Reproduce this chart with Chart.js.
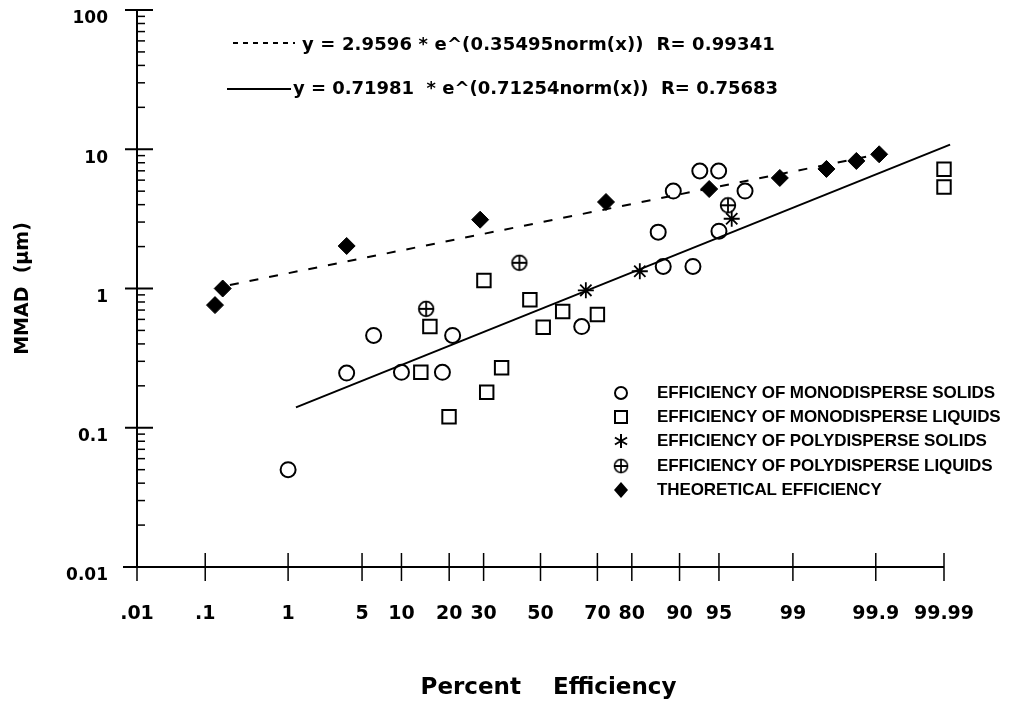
<!DOCTYPE html>
<html><head><meta charset="utf-8">
<script src="https://cdn.jsdelivr.net/npm/chart.js@4.4.1/dist/chart.umd.min.js"></script>
<style>html,body{margin:0;padding:0;background:#fff}#wrap{width:1013px;height:703px}</style>
</head><body><div id="wrap"><canvas id="c" width="1013" height="703"></canvas></div>
<script>
// ---------- data (percent efficiency, MMAD in micrometres) ----------
const xTickPercents = [0.01, 0.1, 1, 5, 10, 20, 30, 50, 70, 80, 90, 95, 99, 99.9, 99.99];
const xTickLabels = ['.01', '.1', '1', '5', '10', '20', '30', '50', '70', '80', '90', '95', '99', '99.9', '99.99'];
const yTickValues = [0.01, 0.1, 1, 10, 100];
const yTickLabels = ['0.01', '0.1', '1', '10', '100'];

const monoSolidsPct  = [1.0, 3.7, 6.2, 10.0, 18.3, 20.9, 64.8, 86.1, 87.1, 88.95, 92.0, 92.9, 94.97, 95.0, 97.03];
const monoSolidsMMAD = [0.05, 0.247, 0.46, 0.25, 0.25, 0.46, 0.533, 2.54, 1.44, 5.01, 1.44, 6.98, 6.98, 2.58, 5.01];

const monoLiquidsPct  = [13.5, 15.4, 19.96, 30.1, 31.0, 36.0, 46.1, 51.0, 58.1, 70.0, 99.99, 99.99];
const monoLiquidsMMAD = [0.25, 0.533, 0.12, 1.14, 0.18, 0.27, 0.83, 0.527, 0.683, 0.65, 7.18, 5.35];

const polySolidsPct  = [66.2, 82.0, 96.1];
const polySolidsMMAD = [0.97, 1.33, 3.17];

const polyLiquidsPct  = [14.6, 42.3, 95.8];
const polyLiquidsMMAD = [0.714, 1.53, 3.96];

const theoPct  = [0.135, 0.17, 3.7, 28.9, 72.7, 94.0, 98.63, 99.58, 99.82, 99.91];
const theoMMAD = [0.76, 1.0, 2.02, 3.12, 4.18, 5.18, 6.22, 7.22, 8.24, 9.2];

const dashedFitPct  = [0.21, 99.925];
const dashedFitMMAD = [1.06, 9.4];
const solidFitPct   = [1.21, 99.992];
const solidFitMMAD  = [0.14, 10.8];

const eq1 = 'y = 2.9596 * e^(0.35495norm(x))  R= 0.99341';
const eq2 = 'y = 0.71981  * e^(0.71254norm(x))  R= 0.75683';
const legendLabels = [
  'EFFICIENCY OF MONODISPERSE SOLIDS',
  'EFFICIENCY OF MONODISPERSE LIQUIDS',
  'EFFICIENCY OF POLYDISPERSE SOLIDS',
  'EFFICIENCY OF POLYDISPERSE LIQUIDS',
  'THEORETICAL EFFICIENCY'
];

// ---------- normal probability axis transform (inverse normal CDF) ----------
function probit(p) {
  const a=[-3.969683028665376e+01,2.209460984245205e+02,-2.759285104469687e+02,1.383577518672690e+02,-3.066479806614716e+01,2.506628277459239e+00];
  const b=[-5.447609879822406e+01,1.615858368580409e+02,-1.556989798598866e+02,6.680131188771972e+01,-1.328068155288572e+01];
  const c=[-7.784894002430293e-03,-3.223964580411365e-01,-2.400758277161838e+00,-2.549732539343734e+00,4.374664141464968e+00,2.938163982698783e+00];
  const d=[7.784695709041462e-03,3.224671290700398e-01,2.445134137142996e+00,3.754408661907416e+00];
  const pl=0.02425, ph=1-pl; let q, r;
  if (p < pl) { q=Math.sqrt(-2*Math.log(p)); return (((((c[0]*q+c[1])*q+c[2])*q+c[3])*q+c[4])*q+c[5])/((((d[0]*q+d[1])*q+d[2])*q+d[3])*q+1); }
  if (p <= ph) { q=p-0.5; r=q*q; return (((((a[0]*r+a[1])*r+a[2])*r+a[3])*r+a[4])*r+a[5])*q/(((((b[0]*r+b[1])*r+b[2])*r+b[3])*r+b[4])*r+1); }
  q=Math.sqrt(-2*Math.log(1-p)); return -(((((c[0]*q+c[1])*q+c[2])*q+c[3])*q+c[4])*q+c[5])/((((d[0]*q+d[1])*q+d[2])*q+d[3])*q+1);
}
const toPts = (pcts, vals) => pcts.map((p, i) => ({ x: probit(p / 100), y: vals[i] }));

function makeCrossCircle(r, lw) {
  const s = 20, cv = document.createElement('canvas'); cv.width = s; cv.height = s;
  const g = cv.getContext('2d'); g.strokeStyle = '#000'; g.lineWidth = lw;
  g.beginPath(); g.arc(s/2, s/2, r, 0, 2*Math.PI); g.stroke();
  g.beginPath(); g.moveTo(s/2 - r, s/2); g.lineTo(s/2 + r, s/2); g.moveTo(s/2, s/2 - r); g.lineTo(s/2, s/2 + r); g.stroke();
  return cv;
}
const crossCircle = makeCrossCircle(7.3, 1.8);

const FONT = "'DejaVu Sans', sans-serif";

function drawSymbol(ctx, type, x, y) {
  ctx.save(); ctx.strokeStyle = '#000'; ctx.fillStyle = '#000'; ctx.lineWidth = 2; ctx.setLineDash([]);
  ctx.beginPath();
  if (type === 'circle') { ctx.arc(x, y, 6, 0, 2*Math.PI); ctx.stroke(); }
  else if (type === 'square') { ctx.rect(x - 6, y - 6, 12, 12); ctx.stroke(); }
  else if (type === 'star') {
    for (let k = 0; k < 3; k++) { const an = Math.PI/2 + k*Math.PI/3; ctx.moveTo(x - 7*Math.cos(an), y - 7*Math.sin(an)); ctx.lineTo(x + 7*Math.cos(an), y + 7*Math.sin(an)); }
    ctx.stroke();
  } else if (type === 'ccircle') { ctx.drawImage(crossCircle, x - 9, y - 9, 18, 18); }
  else if (type === 'diamond') { ctx.moveTo(x, y - 8); ctx.lineTo(x + 7, y); ctx.lineTo(x, y + 8); ctx.lineTo(x - 7, y); ctx.closePath(); ctx.fill(); }
  ctx.restore();
}

function fitText(ctx, text, x0, x1, y) {
  ctx.letterSpacing = '0px';
  const w0 = ctx.measureText(text).width;
  const ls = (x1 - x0 - w0) / text.length;
  ctx.letterSpacing = ls + 'px';
  ctx.fillText(text, x0, y);
  ctx.letterSpacing = '0px';
  return ls;
}

const drawPlugin = {
  id: 'drawPlugin',
  beforeDatasetsDraw(chart) {
    const { ctx, chartArea: a, scales: { x, y } } = chart;
    ctx.save();
    ctx.strokeStyle = '#000';
    ctx.lineWidth = 2;
    ctx.beginPath(); ctx.moveTo(a.left, a.top); ctx.lineTo(a.left, a.bottom); ctx.stroke();
    ctx.beginPath(); ctx.moveTo(a.left - 14, a.bottom); ctx.lineTo(a.right, a.bottom); ctx.stroke();
    yTickValues.forEach(v => { const py = y.getPixelForValue(v); ctx.beginPath(); ctx.moveTo(a.left - 12, py); ctx.lineTo(a.left + 16, py); ctx.stroke(); });
    ctx.lineWidth = 1.5;
    for (let i = 0; i < yTickValues.length - 1; i++) {
      for (let k = 2; k <= 9; k++) {
        const py = y.getPixelForValue(yTickValues[i] * k);
        ctx.beginPath(); ctx.moveTo(a.left, py); ctx.lineTo(a.left + 8, py); ctx.stroke();
      }
    }
    x.ticks.forEach(t => { const px = x.getPixelForValue(t.value); ctx.beginPath(); ctx.moveTo(px, a.bottom - 14); ctx.lineTo(px, a.bottom + 14); ctx.stroke(); });
    ctx.restore();
  },
  afterDraw(chart) {
    const ctx = chart.ctx;
    ctx.save();
    ctx.fillStyle = '#000'; ctx.strokeStyle = '#000';
    // regression equations
    ctx.lineWidth = 2;
    ctx.setLineDash([5, 5]);
    ctx.beginPath(); ctx.moveTo(233, 43); ctx.lineTo(295, 43); ctx.stroke();
    ctx.setLineDash([]);
    ctx.beginPath(); ctx.moveTo(227, 89); ctx.lineTo(291, 89); ctx.stroke();
    ctx.font = "bold 18px 'DejaVu Sans', sans-serif";
    ctx.textBaseline = 'middle'; ctx.textAlign = 'left';
    fitText(ctx, eq1, 302, 775, 45);
    fitText(ctx, eq2, 293, 778, 89);
    // symbol legend
    const types = ['circle', 'square', 'star', 'ccircle', 'diamond'];
    const rows = [393, 417, 441, 466, 490];
    ctx.font = "bold 17px 'Liberation Sans', Arial, sans-serif";
    ctx.letterSpacing = '0px';
    const w0 = ctx.measureText(legendLabels[0]).width;
    const ls = (995 - 657 - w0) / legendLabels[0].length;
    types.forEach((t, i) => {
      drawSymbol(ctx, t, 621, rows[i]);
      ctx.letterSpacing = ls + 'px';
      ctx.fillText(legendLabels[i], 657, rows[i]);
    });
    ctx.letterSpacing = '0px';
    ctx.restore();
  }
};

const pointBase = { borderColor: '#000', borderWidth: 2, backgroundColor: 'rgba(0,0,0,0)', clip: false, showLine: false };

new Chart(document.getElementById('c'), {
  type: 'scatter',
  data: {
    datasets: [
      { ...pointBase, label: legendLabels[0], data: toPts(monoSolidsPct, monoSolidsMMAD), pointStyle: 'circle', pointRadius: 7.5 },
      { ...pointBase, label: legendLabels[1], data: toPts(monoLiquidsPct, monoLiquidsMMAD), pointStyle: 'rect', pointRadius: 9.5 },
      { ...pointBase, label: legendLabels[2], data: toPts(polySolidsPct, polySolidsMMAD), pointStyle: 'star', pointRadius: 8, borderWidth: 1.8 },
      { ...pointBase, label: legendLabels[3], data: toPts(polyLiquidsPct, polyLiquidsMMAD), pointStyle: crossCircle },
      { ...pointBase, label: legendLabels[4], data: toPts(theoPct, theoMMAD), pointStyle: 'rectRot', pointRadius: 8.5, backgroundColor: '#000', borderWidth: 1 },
      { label: 'dashed fit', data: toPts(dashedFitPct, dashedFitMMAD), showLine: true, pointRadius: 0, borderColor: '#000', borderWidth: 2, borderDash: [9, 11], fill: false, clip: false },
      { label: 'solid fit', data: toPts(solidFitPct, solidFitMMAD), showLine: true, pointRadius: 0, borderColor: '#000', borderWidth: 2, fill: false, clip: false }
    ]
  },
  options: {
    responsive: false,
    devicePixelRatio: 1,
    animation: false,
    events: [],
    layout: { autoPadding: false, padding: { top: 10, right: 69, bottom: 0, left: 0 } },
    plugins: { legend: { display: false }, tooltip: { enabled: false } },
    scales: {
      x: {
        type: 'linear',
        min: probit(xTickPercents[0] / 100),
        max: probit(xTickPercents[xTickPercents.length - 1] / 100),
        grid: { display: false, drawTicks: false, tickLength: 0 }, border: { display: false },
        afterBuildTicks: s => { s.ticks = xTickPercents.map(p => ({ value: probit(p / 100) })); },
        afterFit: s => { s.height = 136; s.paddingLeft = 0; s.paddingRight = 0; },
        ticks: { autoSkip: false, maxRotation: 0, minRotation: 0, padding: 36, color: '#000',
          font: { family: FONT, weight: 'bold', size: 19 },
          callback: (v, i) => xTickLabels[i] },
        title: { display: true, text: '  Percent    Efficiency', color: '#000',
          font: { family: FONT, weight: 'bold', size: 23 }, padding: { top: 0, bottom: 1 } }
      },
      y: {
        type: 'logarithmic',
        min: yTickValues[0], max: yTickValues[yTickValues.length - 1],
        grid: { display: false, drawTicks: false, tickLength: 0 }, border: { display: false },
        afterBuildTicks: s => { s.ticks = yTickValues.map(v => ({ value: v })); },
        afterFit: s => { s.width = 137; s.paddingTop = 0; s.paddingBottom = 0; },
        ticks: { padding: 29, labelOffset: 9, color: '#000',
          font: { family: FONT, weight: 'bold', size: 17 },
          callback: (v, i) => yTickLabels[i] },
        title: { display: true, text: 'MMAD  (μm)', color: '#000',
          font: { family: FONT, weight: 'bold', size: 19 }, padding: { top: 12, bottom: 0 } }
      }
    }
  },
  plugins: [drawPlugin]
});
</script>
</body></html>
